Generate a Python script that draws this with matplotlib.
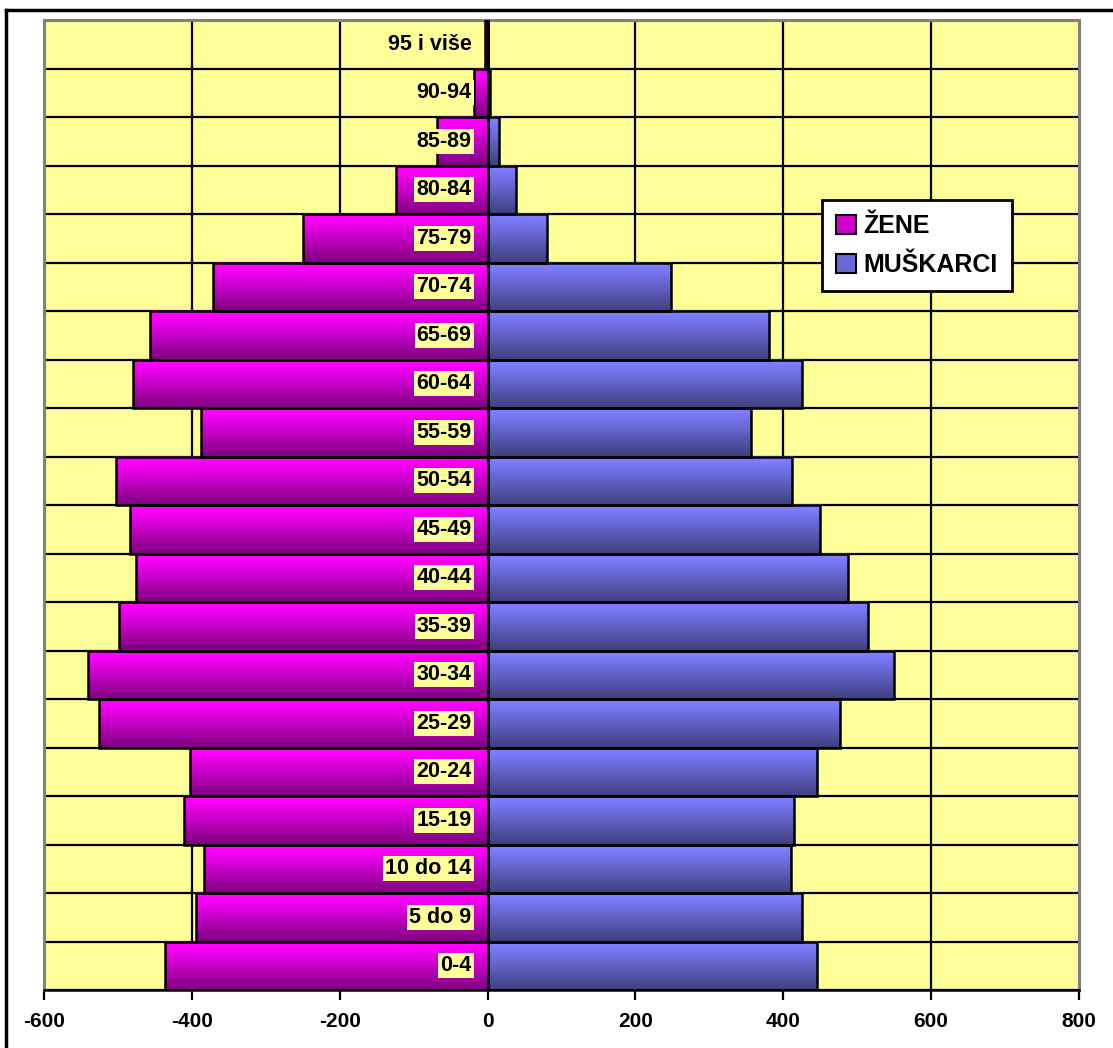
import numpy as np
import matplotlib.pyplot as plt
from matplotlib.patches import Patch
from matplotlib.lines import Line2D

# --- podaci (čitano sa slike) ---
age_groups = ['0-4', '5 do 9', '10 do 14', '15-19', '20-24', '25-29', '30-34',
              '35-39', '40-44', '45-49', '50-54', '55-59', '60-64', '65-69',
              '70-74', '75-79', '80-84', '85-89', '90-94', '95 i više']
zene = [-436, -395, -384, -410, -403, -526, -541, -498, -475, -483, -503,
        -388, -479, -456, -371, -249, -124, -69, -19, -4]
muskarci = [446, 425, 411, 414, 445, 477, 550, 515, 488, 450, 412, 357,
            425, 380, 248, 81, 39, 15, 3, 1]
x_ticks = [-600, -400, -200, 0, 200, 400, 600, 800]

plt.rcParams['font.family'] = ['Liberation Sans', 'DejaVu Sans']
plt.rcParams['font.weight'] = 'bold'

fig = plt.figure(figsize=(11.13, 10.48), dpi=100)
ax = fig.add_axes([44 / 1113, 58 / 1048, 1035 / 1113, 970 / 1048])
ax.set_facecolor('#FFFF99')


def gradient_bar(ax, y, x0, x1, top, bottom):
    # vertikalni prijelaz boje kao u Excelu
    n = 64
    t = np.linspace(0, 1, n)[:, None]
    top = np.array(top)
    bottom = np.array(bottom)
    w = np.clip((t - 0.1) / 0.9, 0, 1)
    img = top * (1 - w[..., None]) + bottom * w[..., None]
    img = np.repeat(img, 2, axis=1)
    lo, hi = min(x0, x1), max(x0, x1)
    ax.imshow(img, extent=(lo, hi, y - 0.5, y + 0.5), aspect='auto',
              origin='upper', zorder=2, interpolation='bilinear')


mag_top, mag_bot = (1.0, 0.0, 1.0), (0.50, 0.0, 0.50)
blu_top, blu_bot = (0.49, 0.49, 1.0), (0.25, 0.25, 0.50)

y = np.arange(len(age_groups))
for i in y:
    gradient_bar(ax, i, 0, zene[i], mag_top, mag_bot)
    gradient_bar(ax, i, 0, muskarci[i], blu_top, blu_bot)

ax.barh(y, zene, height=1.0, fill=False, edgecolor='black', linewidth=1.8, zorder=3)
ax.barh(y, muskarci, height=1.0, fill=False, edgecolor='black', linewidth=1.8, zorder=3)

# mreža
for gx in x_ticks[1:-1]:
    if gx != 0:
        ax.axvline(gx, color='black', linewidth=1.6, zorder=1)
for gy in np.arange(-0.5, len(age_groups), 1.0):
    ax.axhline(gy, color='black', linewidth=1.6, zorder=1)
ax.axvline(0, color='black', linewidth=2.2, zorder=4)

ax.set_xlim(-600, 800)
ax.set_ylim(-0.5, len(age_groups) - 0.5)
ax.set_yticks([])
ax.set_xticks(x_ticks)
ax.set_xticklabels([str(v) for v in x_ticks], fontsize=15, fontweight='bold')
ax.tick_params(axis='x', direction='out', length=7, width=1.6, pad=9)

for side in ['top', 'left', 'right']:
    ax.spines[side].set_color('#808080')
    ax.spines[side].set_linewidth(2.2)
ax.spines['bottom'].set_color('black')
ax.spines['bottom'].set_linewidth(1.8)

# natpisi dobnih skupina
for i, lab in enumerate(age_groups):
    ax.annotate(lab, xy=(0, i), xytext=(-16, 0), textcoords='offset pixels',
                ha='right', va='center', fontsize=15.5, fontweight='bold', zorder=5,
                bbox=dict(boxstyle='square,pad=0.1', facecolor='#FFFF99',
                          edgecolor='none'))

handles = [Patch(facecolor='#D000D0', edgecolor='black', linewidth=1.5, label='ŽENE'),
           Patch(facecolor='#6868D8', edgecolor='black', linewidth=1.5, label='MUŠKARCI')]
leg = ax.legend(handles=handles, loc='upper left', bbox_to_anchor=(0.752, 0.814),
                borderaxespad=0, fancybox=False, framealpha=1, edgecolor='black',
                prop={'size': 18, 'weight': 'bold'}, handlelength=0.8,
                handleheight=0.8, handletextpad=0.3, borderpad=0.55,
                labelspacing=0.6)
leg.get_frame().set_linewidth(2)
leg.set_zorder(10)

# vanjski okvir grafikona
fig.add_artist(Line2D([6 / 1113, 1], [1 - 10 / 1048, 1 - 10 / 1048],
                      color='black', linewidth=2.5))
fig.add_artist(Line2D([6 / 1113, 6 / 1113], [0, 1 - 10 / 1048],
                      color='black', linewidth=2.5))

fig.savefig('out.png', dpi=100)
